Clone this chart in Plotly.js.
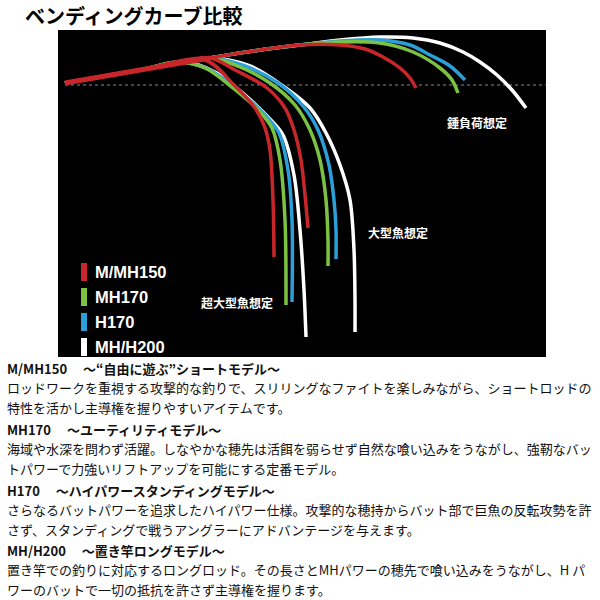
<!DOCTYPE html>
<html>
<head>
<meta charset="utf-8">
<script src="https://cdn.plot.ly/plotly-3.0.1.min.js"></script>
<style>html,body{margin:0;padding:0;background:#fff;}#chart{width:600px;height:600px;}</style>
</head>
<body>
<div id="chart"></div>
<script>
// ---- Data (drawing coordinates of the bending curves) ----
var models = ['M/MH150', 'MH170', 'H170', 'MH/H200'];
var modelColors = ['#c9262c', '#7cc242', '#2a9fd9', '#ffffff'];
var loadLabels = ['錘負荷想定', '大型魚想定', '超大型魚想定'];

// rod butt section shared by all curves
var butt_x = [65, 140, 210];
var butt_y = [83, 70, 58];

// 錘負荷想定 (sinker load)
var sinker_MMH150_x = [65, 140, 210, 260, 300, 340, 365, 383, 400, 410, 416];
var sinker_MMH150_y = [83, 70, 58, 50, 45, 45, 49, 57, 68, 78, 88];
var sinker_MH170_x = [65, 140, 210, 260, 300, 340, 380, 413, 440, 452, 458];
var sinker_MH170_y = [83, 70, 58, 50, 45, 42, 43, 52, 68, 80, 93];
var sinker_H170_x = [65, 140, 210, 260, 300, 340, 380, 410, 430, 450, 465];
var sinker_H170_y = [83, 70, 58, 50, 45, 41, 40, 45, 55, 66, 80];
var sinker_MHH200_x = [65, 140, 210, 260, 300, 340, 380, 413, 440, 463, 480, 497, 512, 526];
var sinker_MHH200_y = [83, 70, 58, 50, 45, 40, 37, 38, 43, 52, 62, 75, 90, 108];

// 大型魚想定 (large fish)
var large_MMH150_x = [65, 140, 210, 235, 267, 285, 294, 301, 305, 308];
var large_MMH150_y = [83, 70, 58, 70, 88, 108, 130, 160, 195, 228];
var large_MH170_x = [65, 140, 210, 240, 270, 295, 310, 320, 326, 328, 328];
var large_MH170_y = [83, 70, 58, 67, 83, 105, 130, 160, 200, 240, 266];
var large_H170_x = [65, 140, 210, 245, 278, 303, 318, 329, 334, 336, 336];
var large_H170_y = [83, 70, 58, 66, 83, 106, 130, 165, 200, 230, 259];
var large_MHH200_x = [65, 140, 210, 250, 283, 310, 326, 340, 350, 354, 355, 355];
var large_MHH200_y = [83, 70, 58, 66, 86, 108, 133, 165, 200, 250, 300, 332];

// 超大型魚想定 (extra-large fish)
var xlarge_MMH150_x = [65, 140, 205, 233, 255, 265, 270, 273, 274];
var xlarge_MMH150_y = [83, 70, 60, 84, 108, 128, 150, 200, 257];
var xlarge_MH170_x = [65, 140, 177, 205, 233, 260, 272, 280, 285, 286];
var xlarge_MH170_y = [83, 70, 62, 68, 88, 112, 128, 160, 220, 305];
var xlarge_H170_x = [65, 140, 180, 210, 240, 265, 279, 288, 292, 292];
var xlarge_H170_y = [83, 70, 62, 70, 92, 115, 133, 170, 220, 302];
var xlarge_MHH200_x = [65, 140, 185, 215, 245, 268, 283, 294, 300, 304, 306];
var xlarge_MHH200_y = [83, 70, 62, 72, 95, 117, 135, 175, 230, 290, 337];

// description texts
var descHeaders = [
  'M/MH150　 ～“自由に遊ぶ”ショートモデル～',
  'MH170　 ～ユーティリティモデル～',
  'H170　 ～ハイパワースタンディングモデル～',
  'MH/H200　 ～置き竿ロングモデル～'
];
var descBodies = [
  ['ロッドワークを重視する攻撃的な釣りで、スリリングなファイトを楽しみながら、ショートロッドの', '特性を活かし主導権を握りやすいアイテムです。'],
  ['海域や水深を問わず活躍。しなやかな穂先は活餌を弱らせず自然な喰い込みをうながし、強靭なバッ', 'トパワーで力強いリフトアップを可能にする定番モデル。'],
  ['さらなるバットパワーを追求したハイパワー仕様。攻撃的な穂持からバット部で巨魚の反転攻勢を許', 'さず、スタンディングで戦うアングラーにアドバンテージを与えます。'],
  ['置き竿での釣りに対応するロングロッド。その長さとMHパワーの穂先で喰い込みをうながし、H パ', 'ワーのバットで一切の抵抗を許さず主導権を握ります。']
];
var curveSets = [
  [[sinker_MMH150_x, sinker_MMH150_y], [large_MMH150_x, large_MMH150_y], [xlarge_MMH150_x, xlarge_MMH150_y]],
  [[sinker_MH170_x, sinker_MH170_y], [large_MH170_x, large_MH170_y], [xlarge_MH170_x, xlarge_MH170_y]],
  [[sinker_H170_x, sinker_H170_y], [large_H170_x, large_H170_y], [xlarge_H170_x, xlarge_H170_y]],
  [[sinker_MHH200_x, sinker_MHH200_y], [large_MHH200_x, large_MHH200_y], [xlarge_MHH200_x, xlarge_MHH200_y]]
];

// plot area geometry
var PL = 58, PR = 546, PT = 30, PB = 357;
function paperX(px) { return (px - PL) / (PR - PL); }
function paperY(py) { return (PB - py) / (PB - PT); }

// ---- Build traces: white first, red last (red on top of the butt) ----
var traces = [];
for (var m = models.length - 1; m >= 0; m--) {
  for (var k = 0; k < 3; k++) {
    traces.push({
      type: 'scatter', mode: 'lines',
      x: curveSets[m][k][0], y: curveSets[m][k][1],
      name: models[m] + ' ' + loadLabels[k],
      line: {color: modelColors[m], width: 3.5, shape: 'spline', smoothing: 0.9},
      hoverinfo: 'skip', showlegend: false
    });
  }
}
traces.push({
  type: 'scatter', mode: 'lines', x: butt_x, y: butt_y,
  line: {color: modelColors[0], width: 5, shape: 'spline'},
  hoverinfo: 'skip', showlegend: false
});

var shapes = [
  {type: 'line', xref: 'x', yref: 'y', x0: 65, x1: 546, y0: 85, y1: 85,
   line: {color: '#8a8a8a', width: 1, dash: '3px,3px'}, layer: 'below'}
];
var annotations = [];
var legendY = [272, 297, 322, 347];
for (var i = 0; i < models.length; i++) {
  shapes.push({type: 'rect', xref: 'x', yref: 'y', x0: 81, x1: 87, y0: legendY[i] - 9, y1: legendY[i] + 9,
               fillcolor: modelColors[i], line: {width: 0}});
  annotations.push({xref: 'x', yref: 'y', x: 93, y: legendY[i], xanchor: 'left', yanchor: 'middle',
                    text: '<b>' + models[i] + '</b>', showarrow: false,
                    font: {family: 'Liberation Sans, Arial, sans-serif', size: 16.5, color: '#ffffff'}});
}
var labelPos = [[477, 122], [398, 232], [237, 302]];
for (var j = 0; j < loadLabels.length; j++) {
  annotations.push({xref: 'x', yref: 'y', x: labelPos[j][0], y: labelPos[j][1], xanchor: 'center', yanchor: 'middle',
                    text: '<b>' + loadLabels[j] + '</b>', showarrow: false,
                    font: {family: 'Noto Sans CJK JP, sans-serif', size: 12, color: '#ffffff'}});
}
var headerY = [368, 429, 490, 550];
for (var h = 0; h < descHeaders.length; h++) {
  annotations.push({xref: 'paper', yref: 'paper', x: paperX(5), y: paperY(headerY[h]), xanchor: 'left', yanchor: 'middle',
                    text: '<b>' + descHeaders[h] + '</b>', showarrow: false,
                    font: {family: 'Noto Sans CJK JP, sans-serif', size: 13, color: '#111111'}});
  for (var b = 0; b < descBodies[h].length; b++) {
    annotations.push({xref: 'paper', yref: 'paper', x: paperX(5), y: paperY(headerY[h] + 19.5 * (b + 1)), xanchor: 'left', yanchor: 'middle',
                      text: descBodies[h][b], showarrow: false,
                      font: {family: 'Noto Sans CJK JP, sans-serif', size: 13, color: '#111111'}});
  }
}
// chart title placed as a text annotation so its box stays inside the page
annotations.push({xref: 'paper', yref: 'paper', x: paperX(23), y: paperY(16), xanchor: 'left', yanchor: 'middle',
                  text: '<b>ベンディングカーブ比較</b>', showarrow: false,
                  font: {family: 'Noto Sans CJK JP, sans-serif', size: 20, color: '#000000'}});

var layout = {
  width: 600, height: 600,
  margin: {l: PL, r: 600 - PR, t: PT, b: 600 - PB, pad: 0},
  paper_bgcolor: '#ffffff', plot_bgcolor: '#000000',
  xaxis: {range: [PL, PR], visible: false, fixedrange: true},
  yaxis: {range: [PB, PT], visible: false, fixedrange: true},
  shapes: shapes, annotations: annotations, showlegend: false
};
Plotly.newPlot('chart', traces, layout, {staticPlot: true});
</script>
</body>
</html>
